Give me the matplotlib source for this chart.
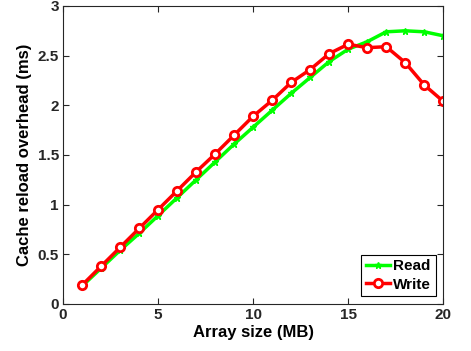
import matplotlib
matplotlib.use('Agg')
import matplotlib.pyplot as plt

# Array size (MB)
sizes = list(range(1, 21))

# Cache reload overhead (ms)
read_ms = [0.18, 0.36, 0.54, 0.71, 0.89, 1.07, 1.25, 1.43, 1.61, 1.78,
           1.95, 2.12, 2.28, 2.44, 2.565, 2.64, 2.74, 2.75, 2.74, 2.70]
write_ms = [0.19, 0.38, 0.57, 0.76, 0.95, 1.14, 1.33, 1.51, 1.70, 1.89,
            2.05, 2.23, 2.36, 2.52, 2.615, 2.58, 2.59, 2.43, 2.205, 2.04]

plt.rcParams['font.family'] = ['Liberation Sans', 'DejaVu Sans']
plt.rcParams['font.weight'] = 'bold'

fig = plt.figure(figsize=(4.71, 3.51), dpi=100)
ax = fig.add_axes([0.134, 0.134, 0.807, 0.849])

ax.plot(sizes, read_ms, color=(0, 1, 0), lw=2.5, marker='*', ms=5,
        label='Read')
ax.plot(sizes, write_ms, color=(1, 0, 0), lw=2.5, marker='o', ms=6,
        mfc='white', mew=2, label='Write')

ax.set_xlim(0, 20)
ax.set_ylim(0, 3)
ax.set_xticks([0, 5, 10, 15, 20])
ax.set_yticks([0, 0.5, 1, 1.5, 2, 2.5, 3])
ax.set_yticklabels(['0', '0.5', '1', '1.5', '2', '2.5', '3'])
ax.tick_params(direction='in', top=True, right=True, length=4,
               labelsize=11, colors='#262626', pad=3)
for s in ax.spines.values():
    s.set_color('#262626')
    s.set_linewidth(0.8)

ax.set_xlabel('Array size (MB)', fontsize=12, fontweight='bold', labelpad=2)
ax.set_ylabel('Cache reload overhead (ms)', fontsize=12, fontweight='bold', labelpad=4)

leg = ax.legend(loc='lower right', fontsize=11, handlelength=1.6,
                handletextpad=0.2, borderpad=0.3, labelspacing=0.3,
                fancybox=False, framealpha=1, borderaxespad=0.5)
leg.get_frame().set_edgecolor('black')
leg.get_frame().set_linewidth(0.8)

fig.savefig('out.png', dpi=100)
